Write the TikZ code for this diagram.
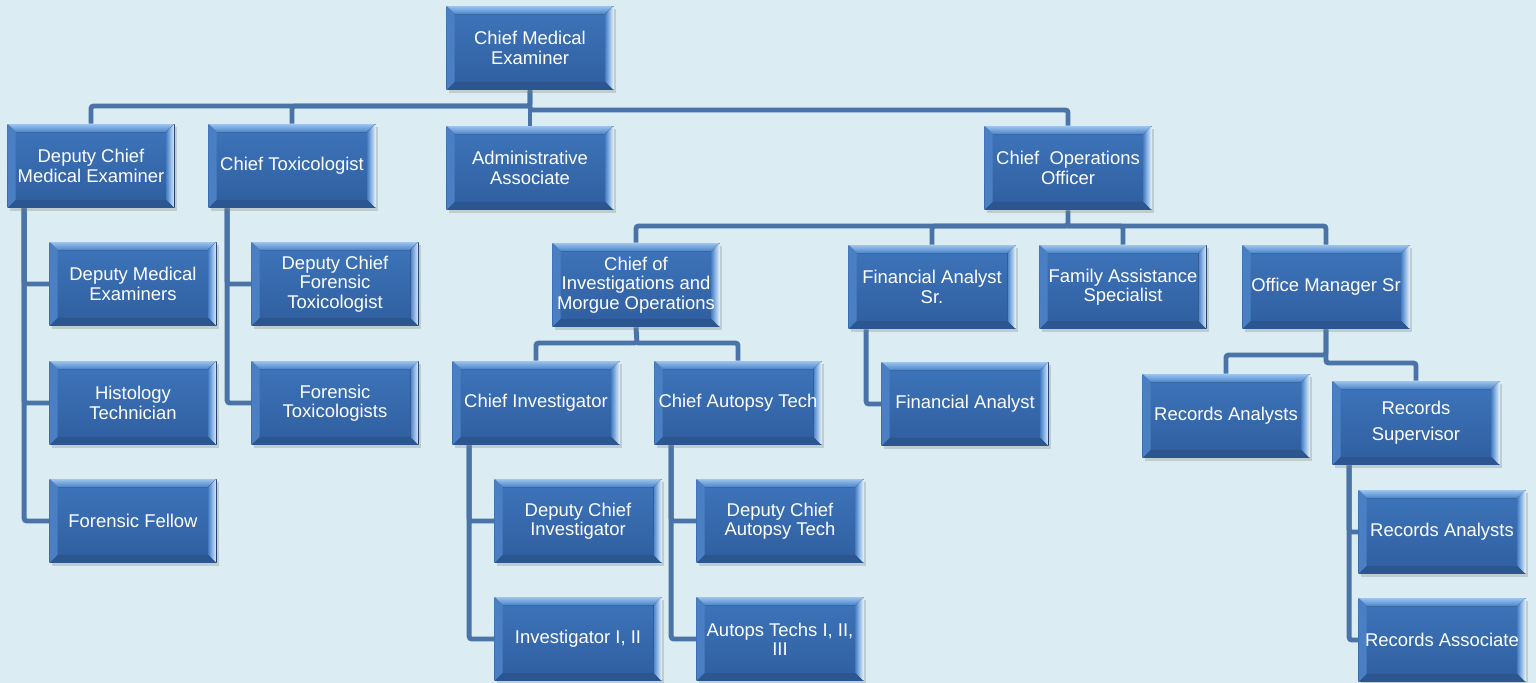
\documentclass[tikz,border=0pt]{standalone}
\usepackage{fontspec}
\setmainfont{Liberation Sans}
\usetikzlibrary{backgrounds,shadows}

\definecolor{bgblue}{HTML}{DBEDF3}
\definecolor{linkblue}{HTML}{4A74A8}
\definecolor{facetop}{HTML}{3E75BB}
\definecolor{facebot}{HTML}{2F5E9F}
\definecolor{bevhi}{HTML}{9CC4EE}
\definecolor{bevlo}{HTML}{4C84C9}
\definecolor{bevleft}{HTML}{4A80C3}
\definecolor{bevright}{HTML}{E2F0FD}
\definecolor{bevbot}{HTML}{2B5690}

\newcommand{\orgfont}{\fontsize{10.5}{11}\selectfont}
\newcommand{\bevw}{0.16cm}
% schuine randen van een vak
\newcommand{\orgbevel}{%
  \coordinate (bnw) at (path picture bounding box.north west);
  \coordinate (bne) at (path picture bounding box.north east);
  \coordinate (bsw) at (path picture bounding box.south west);
  \coordinate (bse) at (path picture bounding box.south east);
  \fill[top color=bevhi, bottom color=bevlo]
    (bnw) -- (bne) -- ([shift={(-\bevw,-\bevw)}]bne) -- ([shift={(\bevw,-\bevw)}]bnw) -- cycle;
  \fill[bevleft]
    (bnw) -- ([shift={(\bevw,-\bevw)}]bnw) -- ([shift={(\bevw,\bevw)}]bsw) -- (bsw) -- cycle;
  \fill[left color=bevlo, right color=bevright]
    (bne) -- (bse) -- ([shift={(-\bevw,\bevw)}]bse) -- ([shift={(-\bevw,-\bevw)}]bne) -- cycle;
  \fill[bevbot]
    (bsw) -- ([shift={(\bevw,\bevw)}]bsw) -- ([shift={(-\bevw,\bevw)}]bse) -- (bse) -- cycle;
}

\tikzset{
  orgbox/.style={rectangle, minimum width=3.34cm, minimum height=1.68cm,
    inner sep=1pt, align=center, text=white, font=\orgfont,
    top color=facetop, bottom color=facebot,
    drop shadow={shadow xshift=1.5pt, shadow yshift=-1.5pt, opacity=0.3},
    path picture={\orgbevel}},
  link/.style={draw=linkblue, line width=2.8pt, rounded corners=1.5pt}
}

\begin{document}
\begin{tikzpicture}[x=0.02cm, y=-0.02cm]

  % ============================================================
  % achtergrond
  % ============================================================
  \begin{scope}[on background layer]
    \fill[bgblue] (0,0) rectangle (1536,683);
  \end{scope}
  \useasboundingbox (0,0) rectangle (1536,683);

  % ============================================================
  % vakken
  % ============================================================

  % top
  \node[orgbox] (cme) at (530,48) {Chief Medical\\Examiner};

  % tweede rij
  \node[orgbox] (dcme)  at (91,166)   {Deputy Chief\\Medical Examiner};
  \node[orgbox] (ctox)  at (292,166)  {Chief Toxicologist};
  \node[orgbox] (admin) at (530,168)  {Administrative\\Associate};
  \node[orgbox] (coo)   at (1068,168) {Chief~ Operations\\Officer};

  % onder deputy chief
  \node[orgbox] (dme) at (133,284) {Deputy Medical\\Examiners};
  \node[orgbox] (ht)  at (133,403) {Histology\\Technician};
  \node[orgbox] (ff)  at (133,521) {Forensic Fellow};

  % onder chief toxicologist
  \node[orgbox] (dcft) at (335,284) {Deputy Chief\\Forensic\\Toxicologist};
  \node[orgbox] (ft)   at (335,403) {Forensic\\Toxicologists};

  % onder operations officer
  \node[orgbox] (cimo)  at (636,285)  {Chief of\\Investigations and\\Morgue Operations};
  \node[orgbox] (fas)   at (932,287)  {Financial Analyst\\Sr.};
  \node[orgbox] (fasst) at (1123,287) {Family Assistance\\Specialist};
  \node[orgbox] (oms)   at (1326,287) {Office Manager Sr};

  % onderzoek en autopsie
  \node[orgbox] (ci)    at (536,403) {Chief Investigator};
  \node[orgbox] (cat)   at (738,403) {Chief Autopsy Tech};
  \node[orgbox] (dci)   at (578,521) {Deputy Chief\\Investigator};
  \node[orgbox] (inv)   at (578,639) {Investigator I, II};
  \node[orgbox] (dcat)  at (780,521) {Deputy Chief\\Autopsy Tech};
  \node[orgbox] (atech) at (780,639) {Autops Techs I, II,\\III};

  % financien
  \node[orgbox] (fa) at (965,404) {Financial Analyst};

  % archief
  \node[orgbox] (ra)      at (1226,416) {Records Analysts};
  \node[orgbox] (rs)      at (1416,423) {Records\\[4pt]Supervisor};
  \node[orgbox] (rasub)   at (1442,532) {Records Analysts};
  \node[orgbox] (rassoc)  at (1442,640) {Records Associate};

  % ============================================================
  % verbindingen
  % ============================================================
  \begin{scope}[on background layer]

    % vanaf de chief medical examiner
    \coordinate (cmebusL) at (530,106);
    \coordinate (cmebusR) at (530,110);
    \draw[link] (cme.south) -- (cmebusL) -| (dcme.north);
    \draw[link] (cmebusL) -| (ctox.north);
    \draw[link] (cme.south) -- (admin.north);
    \draw[link] (cme.south) -- (cmebusR) -| (coo.north);

    % zijtakken links
    \draw[link] ([xshift=0.34cm]dcme.south west) |- (dme.west);
    \draw[link] ([xshift=0.34cm]dcme.south west) |- (ht.west);
    \draw[link] ([xshift=0.34cm]dcme.south west) |- (ff.west);
    \draw[link] ([xshift=0.38cm]ctox.south west) |- (dcft.west);
    \draw[link] ([xshift=0.38cm]ctox.south west) |- (ft.west);

    % vanaf de operations officer
    \coordinate (coobus) at (1068,226);
    \draw[link] (coo.south) -- (coobus) -| (cimo.north);
    \draw[link] (coobus) -| (fas.north);
    \draw[link] (coobus) -| (fasst.north);
    \draw[link] (coobus) -| (oms.north);

    % onderzoek en autopsie
    \coordinate (cimobus) at (637,343);
    \draw[link] (cimo.south) -- (cimobus) -| (ci.north);
    \draw[link] (cimobus) -| (cat.north);
    \draw[link] ([xshift=0.34cm]ci.south west) |- (dci.west);
    \draw[link] ([xshift=0.34cm]ci.south west) |- (inv.west);
    \draw[link] ([xshift=0.34cm]cat.south west) |- (dcat.west);
    \draw[link] ([xshift=0.34cm]cat.south west) |- (atech.west);

    % financien
    \draw[link] ([xshift=0.36cm]fas.south west) |- (fa.west);

    % archief
    \coordinate (omsbusL) at (1326,355);
    \coordinate (omsbusR) at (1326,363);
    \draw[link] (oms.south) -- (omsbusL) -| (ra.north);
    \draw[link] (oms.south) -- (omsbusR) -| (rs.north);
    \draw[link] ([xshift=0.34cm]rs.south west) |- (rasub.west);
    \draw[link] ([xshift=0.34cm]rs.south west) |- (rassoc.west);

  \end{scope}

\end{tikzpicture}
\end{document}
